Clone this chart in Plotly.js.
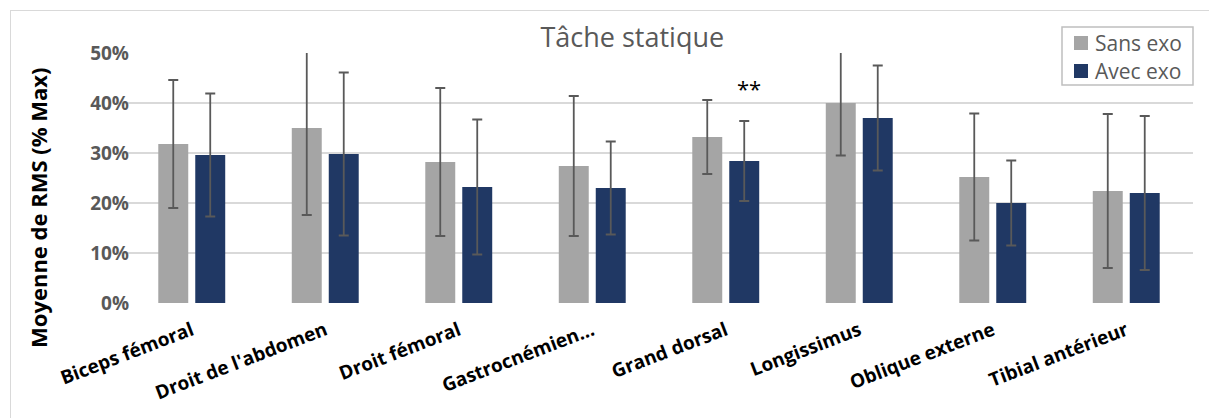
<!DOCTYPE html>
<html><head><meta charset="utf-8">
<script src="https://cdn.plot.ly/plotly-3.0.1.min.js"></script>
<style>
html,body{margin:0;padding:0;background:#fff;}
#wrap{position:relative;width:1209px;height:418px;}
#chart{width:1209px;height:418px;}
#frame{position:absolute;left:10px;top:10px;width:1199px;height:408px;border-left:1.5px solid #d9d9d9;border-top:1.5px solid #d9d9d9;pointer-events:none;box-sizing:border-box;}
</style></head>
<body><div id="wrap"><div id="chart"></div><div id="frame"></div></div>
<script>
const categories = ["Biceps fémoral","Droit de l'abdomen","Droit fémoral","Gastrocnémien…","Grand dorsal","Longissimus","Oblique externe","Tibial antérieur"];
const seriesNames = ["Sans exo", "Avec exo"];
const seriesColors = ['#a5a5a5', '#203864'];
const sansExo = [0.318, 0.350, 0.282, 0.274, 0.332, 0.400, 0.252, 0.224];
const sansExoErr = [0.128, 0.174, 0.148, 0.140, 0.074, 0.105, 0.127, 0.154];
const avecExo = [0.296, 0.298, 0.232, 0.230, 0.284, 0.370, 0.200, 0.220];
const avecExoErr = [0.123, 0.163, 0.135, 0.093, 0.080, 0.105, 0.085, 0.154];
const yTicks = [0, 0.1, 0.2, 0.3, 0.4, 0.5];

const errStyle = {type:'data', visible:true, color:'#595959', thickness:1.8, width:5};
const traces = [
  {type:'bar', name:seriesNames[0], x:categories, y:sansExo, marker:{color:seriesColors[0]},
   error_y:Object.assign({array:sansExoErr}, errStyle)},
  {type:'bar', name:seriesNames[1], x:categories, y:avecExo, marker:{color:seriesColors[1]},
   error_y:Object.assign({array:avecExoErr}, errStyle)}
];

// custom legend (box, swatches, labels) in paper coordinates
const L = 125, W = 1068, B = 303, H = 250;
const px = v => (v - L) / W, py = v => (B - v) / H;
const shapes = [
  {type:'rect', xref:'paper', yref:'paper', x0:px(1062), x1:px(1193), y0:py(85), y1:py(27),
   line:{color:'#bfbfbf', width:1.5}, fillcolor:'#fff', layer:'above'}
];
const legendAnn = [];
seriesNames.forEach((n, i) => {
  const cy = 43 + i * 28;
  shapes.push({type:'rect', xref:'paper', yref:'paper', x0:px(1074), x1:px(1088), y0:py(cy + 7), y1:py(cy - 7),
               line:{width:0}, fillcolor:seriesColors[i], layer:'above'});
  legendAnn.push({x:px(1093), y:py(cy), xref:'paper', yref:'paper', text:n, showarrow:false,
                  xanchor:'left', yanchor:'middle', font:{size:21, color:'#595959'}});
});

const layout = {
  width:1209, height:418,
  margin:{l:125, r:16, t:53, b:115},
  paper_bgcolor:'#fff', plot_bgcolor:'#fff',
  font:{family:'Open Sans, sans-serif'},
  title:{text:'Tâche statique', font:{size:27, color:'#595959'}, x:0.523, xanchor:'center', y:0.91, yanchor:'middle'},
  barmode:'group', bargap:0.446, bargroupgap:0.19,
  showlegend:false,
  xaxis:{type:'category', tickangle:-21, tickfont:{size:19, color:'#000', weight:'bold'}, showgrid:false, zeroline:false, showline:false, ticks:'', ticklabelstandoff:12},
  yaxis:{range:[0,0.5], tickvals:yTicks, tickformat:'.0%', tickfont:{size:19, color:'#595959', weight:'bold'},
         gridcolor:'#d9d9d9', gridwidth:1.5, zeroline:false, showline:false, ticks:'', ticklabelstandoff:-5},
  shapes: shapes,
  annotations:[
    {x:'Grand dorsal', y:0.43, xref:'x', yref:'y', text:'**', showarrow:false, xshift:23, font:{size:22, color:'#000'}},
    {x:-0.0815, y:0.38, xref:'paper', yref:'paper', text:'<b>Moyenne de RMS (% Max)</b>', textangle:-90, showarrow:false,
     xanchor:'center', yanchor:'middle', font:{size:22, color:'#000'}}
  ].concat(legendAnn)
};
Plotly.newPlot('chart', traces, layout, {displayModeBar:false, staticPlot:true});
</script></body></html>
